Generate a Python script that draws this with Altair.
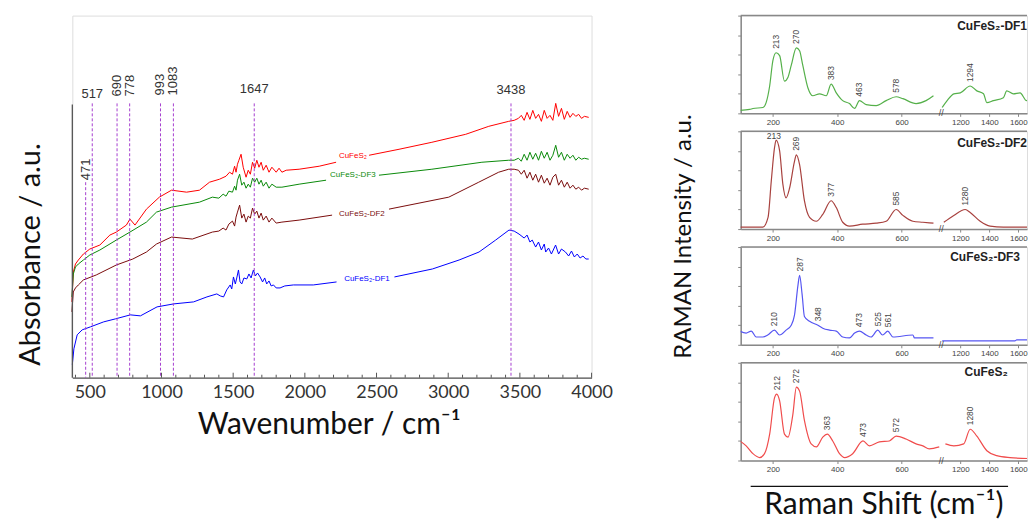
import altair as alt
import pandas as pd

# ---------------- FTIR spectra (left) ----------------
ftir_names = ["CuFeS₂", "CuFeS₂-DF3", "CuFeS₂-DF2", "CuFeS₂-DF1"]
ftir_colors = ["#ff0000", "#0a8a0a", "#7a0c0c", "#0000ff"]

red_wn = [375,385,400,420,455,500,570,640,685,755,780,815,895,985,1070,1175,1265,1335,1405,1450,
          1475,1495,1510,1520,1530,1540,1555,1570,1590,1605,1620,1635,1650,1665,1680,1695,1710,1730,1750,1770,
          1800,1820,1840,1870,1960,2100,2218,2448,2657,2886,3122,3283,3422,3460,3490,3510,3530,3550,3570,3590,
          3610,3630,3650,3670,3690,3710,3730,3750,3770,3790,3810,3830,3850,3870,3890,3910,3930,3950,3980]
red_ab = [76,106,114,118,124,129,133,143,146,153,159,153,169,181,188,186,188,196,199,202,
          206,204,212,206,214,218,224,211,201,208,204,216,210,218,211,216,208,213,206,211,
          206,210,206,208,209,212,216,223,229,236,244,252,257,258,260,263,258,266,259,268,
          260,264,257,268,260,263,258,275,262,270,259,267,261,265,262,264,260,262,261]

green_wn = [375,385,400,420,455,500,570,685,780,895,965,1070,1265,1355,1400,1430,1450,1470,1495,1510,
            1520,1530,1545,1560,1575,1590,1605,1620,1635,1650,1665,1680,1695,1710,1730,1750,1770,1800,1840,1960,
            2148,2517,2886,3235,3422,3460,3490,3510,3530,3550,3570,3590,3610,3630,3650,3670,3690,3710,3730,3750,
            3770,3790,3810,3830,3850,3870,3890,3910,3930,3950,3980]
green_ab = [81,104,111,114,118,123,128,138,146,156,166,171,176,181,180,184,182,187,186,192,
            188,198,204,193,196,190,194,191,200,196,200,194,198,192,196,190,194,191,191,194,
            198,203,209,216,218,218,220,217,224,218,226,219,225,218,227,220,226,218,223,233,
            221,226,218,224,220,223,218,221,219,220,219]

brown_wn = [375,385,400,420,455,545,685,800,895,965,1070,1215,1355,1400,1430,1450,1470,1495,1510,1520,
            1530,1545,1560,1575,1590,1605,1620,1635,1650,1665,1680,1695,1710,1730,1750,1770,1800,1840,1960,2190,
            2587,3004,3213,3352,3422,3460,3490,3510,3530,3550,3570,3590,3610,3630,3650,3670,3690,3710,3730,3750,
            3770,3790,3810,3830,3850,3870,3890,3910,3930,3950,3980]
brown_ab = [66,86,90,93,98,103,113,119,126,134,141,139,146,147,150,148,154,157,152,161,
            166,173,160,164,156,162,160,170,164,167,160,165,158,162,156,160,155,156,158,163,
            169,181,196,206,209,209,208,204,208,200,206,198,204,196,203,195,200,193,201,204,
            193,198,191,196,190,193,189,191,188,190,189]

blue_wn = [378,389,412,447,505,597,679,783,853,969,1085,1224,1317,1386,1410,1433,1455,1479,1490,1502,
           1515,1525,1537,1548,1560,1575,1595,1610,1625,1641,1655,1670,1688,1705,1720,1734,1750,1765,1781,1800,
           1827,1860,1920,2059,2221,2625,2890,3076,3215,3331,3424,3460,3494,3530,3550,3570,3586,3610,3630,3650,
           3670,3680,3700,3720,3749,3770,3790,3818,3840,3860,3880,3900,3920,3940,3960,3980]
blue_ab = [13,29,43,48,51,56,59,63,62,71,74,76,81,84,82,81,88,93,89,101,
           94,100,108,96,94,100,99,104,100,108,102,105,101,96,100,94,97,92,93,90,
           90,92,93,93,96,101,109,118,126,138,148,147,144,140,143,136,138,131,136,128,
           134,126,130,124,133,124,129,126,122,127,121,124,120,122,119,119]

# series labels sitting in the gaps of the curves
ftir_label_wn = [2335, 2335, 2398, 2433]
ftir_label_ab = [222, 203, 164, 99]

# marked bands
band_wn = [471, 517, 690, 778, 993, 1083, 1647, 3438]
band_top = [196, 275, 275, 275, 275, 275, 275, 275]
band_h_text = ["517", "1647", "3438"]
band_h_wn = [517, 1647, 3438]
band_h_y = [284, 289, 288]
band_v_text = ["471", "690", "778", "993", "1083"]
band_v_wn = [471, 690, 778, 993, 1083]
band_v_y = [198, 282, 282, 283, 283]

major_ticks = [500, 1000, 1500, 2000, 2500, 3000, 3500, 4000]
minor_ticks = [v for v in range(400, 4001, 100) if v % 500 != 0]

# ---------------- Raman spectra (right) ----------------
df1_wn = [97,128,138,169,179,190,200,210,221,236,247,257,273,283,293,309,324,345,366,381,
          397,417,438,454,469,490,521,552,583,604,645,676,699,
          1075,1109,1155,1200,1268,1314,1360,1383,1428,1497,1520,1566,1612,1657,1680]
df1_int = [3,4,5,6,11,28,54,62,59,33,37,49,67,64,49,26,18,20,18,30,
           21,13,10,5,13,9,8,13,17,15,10,13,18,
           6,13,20,21,28,23,20,11,13,16,23,20,21,13,20]

df2_wn = [97,128,169,185,195,205,210,221,231,241,252,267,273,283,298,314,335,355,381,397,
          417,438,479,521,552,583,604,635,666,699,
          1086,1155,1234,1268,1337,1405,1497,1589,1680]
df2_int = [2,2,2,12,49,83,91,80,46,32,42,69,76,66,29,12,8,15,29,22,
           7,3,5,6,8,20,14,8,7,6,
           7,14,20,17,8,3,2,2,2]

df3_wn = [97,117,133,148,169,184,205,221,241,257,267,278,283,291,298,314,340,355,376,397,
          417,438,454,469,490,505,526,541,557,573,635,640,699,
          1075,1577,1589,1680]
df3_int = [14,12,14,8,8,10,15,10,15,20,30,61,71,51,29,24,20,17,15,14,
           8,7,12,14,10,8,15,10,14,8,10,7,7,
           4,4,5,5]

cu_wn = [97,117,138,159,174,190,205,212,221,236,247,262,273,283,298,319,335,355,369,386,
         407,423,448,480,500,531,562,583,614,645,666,686,717,
         1097,1155,1223,1268,1314,1383,1451,1543,1680]
cu_int = [20,15,7,3,7,27,64,68,61,27,24,47,75,71,41,17,14,24,27,20,
          7,3,7,20,15,19,20,25,22,17,15,12,14,
          17,15,17,32,25,10,5,3,2]

pk1_text = ["213", "270", "383", "463", "578", "1294"]
pk1_wn = [210, 273, 381, 469, 583, 1268]
pk1_int = [62, 67, 30, 13, 17, 28]
pk2_text = ["269", "377", "585", "1280"]
pk2_wn = [273, 381, 583, 1234]
pk2_int = [76, 29, 20, 20]
pk3_text = ["210", "287", "348", "473", "525", "561"]
pk3_wn = [205, 283, 340, 469, 526, 557]
pk3_int = [15, 71, 20, 14, 15, 14]
pk4_text = ["212", "272", "363", "473", "572", "1280"]
pk4_wn = [212, 273, 369, 480, 583, 1268]
pk4_int = [68, 75, 27, 20, 25, 32]

raman_ticks = [200, 400, 600, 1200, 1400, 1600]

# ======================= left chart =======================
W, H = 520.5, 363
TITLE_FONT = "Lato"

rows = []
for name, wns, abs_, lw in zip(ftir_names, [red_wn, green_wn, brown_wn, blue_wn],
                                [red_ab, green_ab, brown_ab, blue_ab], ftir_label_wn):
    for w, a in zip(wns, abs_):
        rows.append({"wn": w, "ab": a, "series": name, "seg": int(w > lw)})
ftir = pd.DataFrame(rows)

xs = alt.Scale(domain=[378, 4000], nice=False, zero=False)
ys = alt.Scale(domain=[0, H], nice=False, zero=False)
cs = alt.Scale(domain=ftir_names, range=ftir_colors)

xaxis = alt.Axis(values=major_ticks, format="d", labelFont=TITLE_FONT, labelFontSize=18,
                 labelColor="#333", ticks=False, domainColor="#555", domainWidth=1.3,
                 labelPadding=6, grid=False, labelFlush=False,
                 title="Wavenumber / cm⁻¹", titleFont=TITLE_FONT, titleFontSize=30,
                 titleFontWeight="normal", titleColor="#111", titleX=257, titleY=47,
                 titleBaseline="middle", titleAlign="center")
yaxis = alt.Axis(domain=False, ticks=False, labels=False, grid=False,
                 title="Absorbance / a.u.", titleFont=TITLE_FONT, titleFontSize=29,
                 titleFontWeight="normal", titleColor="#111", titleX=-41.7, titleY=239,
                 titleBaseline="middle", titleAlign="center", titleAngle=270)

spectra = alt.Chart(ftir).mark_line(strokeWidth=1).encode(
    x=alt.X("wn:Q", scale=xs, axis=xaxis),
    y=alt.Y("ab:Q", scale=ys, axis=yaxis),
    color=alt.Color("series:N", scale=cs, legend=None),
    detail="seg:N",
    order="wn:Q",
)

bands = alt.Chart(pd.DataFrame({"wn": band_wn, "ab": band_top})).mark_rule(
    color="#a63fd0", strokeWidth=1, strokeDash=[3, 2]
).encode(x="wn:Q", y="ab:Q", y2=alt.datum(0))

series_labels = alt.Chart(pd.DataFrame({"wn": ftir_label_wn, "ab": ftir_label_ab, "series": ftir_names})).mark_text(
    fontSize=8, font="Liberation Sans", baseline="middle"
).encode(x="wn:Q", y="ab:Q", text="series:N", color=alt.Color("series:N", scale=cs, legend=None))

band_h = alt.Chart(pd.DataFrame({"wn": band_h_wn, "ab": band_h_y, "t": band_h_text})).mark_text(
    fontSize=13, font="Liberation Sans", color="#333", baseline="middle"
).encode(x="wn:Q", y="ab:Q", text="t:N")

band_v = alt.Chart(pd.DataFrame({"wn": band_v_wn, "ab": band_v_y, "t": band_v_text})).mark_text(
    fontSize=13, font="Liberation Sans", color="#333", baseline="middle", align="left", angle=270
).encode(x="wn:Q", y="ab:Q", text="t:N")

yline = alt.Chart(pd.DataFrame({"a": [0]})).mark_rule(color="#555", strokeWidth=1.3).encode(
    x=alt.datum(378), y=alt.datum(274), y2=alt.datum(0))

maj = alt.Chart(pd.DataFrame({"wn": major_ticks})).mark_rule(color="#555", strokeWidth=1).encode(
    x="wn:Q", y=alt.value(H), y2=alt.value(H - 5))
mnr = alt.Chart(pd.DataFrame({"wn": minor_ticks})).mark_rule(color="#555", strokeWidth=1).encode(
    x="wn:Q", y=alt.value(H), y2=alt.value(H - 3))

left = alt.layer(spectra, bands, series_labels, band_h, band_v, yline, maj, mnr).properties(width=W, height=H)

# ======================= right panels =======================
PW, PH = 287, 98
GRAY = "#888"


def panel(wn, inten, color, pk_text, pk_wn, pk_int, name, name_x, name_y, name_align,
          extra=None, title=None, ytitle=None):
    df = pd.DataFrame({"wn": wn, "i": inten})
    df["seg"] = (df["wn"] > 900).astype(int)
    rx = alt.Scale(domain=[100, 720, 1075, 1660], range=[0, 200, 202, PW], nice=False, zero=False)
    ry = alt.Scale(domain=[0, 100], nice=False, zero=False)
    rxa = alt.Axis(values=raman_ticks, format="d", labelFontSize=8, labelFont="Liberation Sans",
                   labelColor="#444", tickSize=3, tickColor=GRAY, domainColor=GRAY, domainWidth=1.5,
                   labelPadding=2, grid=False, title=None, labelFlush=False)
    if ytitle is None:
        rya = alt.Axis(labels=False, tickSize=3, tickColor=GRAY, domainColor=GRAY, domainWidth=1.5,
                       grid=False, title=None, tickCount=4)
    else:
        rya = alt.Axis(labels=False, tickSize=3, tickColor=GRAY, domainColor=GRAY, domainWidth=1.5,
                       grid=False, tickCount=4, title=ytitle, titleFont=TITLE_FONT, titleFontSize=24,
                       titleFontWeight="normal", titleColor="#111", titleX=-57, titleY=221,
                       titleAngle=270, titleAlign="center", titleBaseline="middle")
    line = alt.Chart(df).mark_line(color=color, strokeWidth=1.2, clip=True, interpolate="monotone").encode(
        x=alt.X("wn:Q", scale=rx, axis=rxa), y=alt.Y("i:Q", scale=ry, axis=rya),
        detail="seg:N", order="wn:Q")
    pk = pd.DataFrame({"wn": pk_wn, "i": [v + 4 for v in pk_int], "t": pk_text})
    labels = alt.Chart(pk).mark_text(angle=270, align="left", baseline="middle", fontSize=8.5,
                                     font="Liberation Sans", color="#444").encode(
        x="wn:Q", y="i:Q", text="t:N")
    top = alt.Chart(pd.DataFrame({"a": [0]})).mark_rule(color=GRAY, strokeWidth=1.5).encode(
        x=alt.value(0), x2=alt.value(PW), y=alt.value(0))
    brk = alt.Chart(pd.DataFrame({"a": [0]})).mark_text(text="//", fontSize=9, color="#444",
                                                        baseline="middle").encode(
        x=alt.datum(897), y=alt.value(PH))
    nm = alt.Chart(pd.DataFrame({"a": [0]})).mark_text(fontSize=12, fontWeight="bold",
                                                       font="Liberation Sans", color="#222",
                                                       align=name_align, baseline="middle").encode(
        x=alt.value(name_x), y=alt.value(name_y), text=alt.value(name))
    layers = [line, labels, top, brk, nm]
    if extra is not None:
        layers += extra
    ch = alt.layer(*layers).properties(width=PW, height=PH)
    if title is not None:
        ch = ch.properties(title=title)
    return ch


h213 = alt.Chart(pd.DataFrame({"wn": [203], "i": [95], "t": ["213"]})).mark_text(
    fontSize=8.5, font="Liberation Sans", color="#444", baseline="middle").encode(
    x="wn:Q", y="i:Q", text="t:N")

shift_line = alt.Chart(pd.DataFrame({"a": [0]})).mark_rule(color="#111", strokeWidth=1.3).encode(
    x=alt.value(10), x2=alt.value(268), y=alt.value(PH + 26))

p1 = panel(df1_wn, df1_int, "#55b04a", pk1_text, pk1_wn, pk1_int, "CuFeS₂-DF1", PW, 10, "right",
           ytitle="RAMAN Intensity / a.u.")
p2 = panel(df2_wn, df2_int, "#a8423f", pk2_text, pk2_wn, pk2_int, "CuFeS₂-DF2", PW, 12, "right",
           extra=[h213])
p3 = panel(df3_wn, df3_int, "#5656f2", pk3_text, pk3_wn, pk3_int, "CuFeS₂-DF3", 280, 10, "right")
p4 = panel(cu_wn, cu_int, "#f04c4c", pk4_text, pk4_wn, pk4_int, "CuFeS₂", 246, 9, "center",
           extra=[shift_line],
           title=alt.TitleParams("Raman Shift (cm⁻¹)", orient="bottom", fontSize=30, font=TITLE_FONT,
                                 fontWeight="normal", color="#111", offset=3))

right = alt.vconcat(p1, p2, p3, p4, spacing=18, bounds="flush")

chart = alt.hconcat(left, right, spacing=58).properties(
    padding={"left": 15.5, "top": 13, "right": 0, "bottom": 0}
).configure_view(stroke=None).configure(background="white")

chart.save("out.html", embed_options={"renderer": "svg", "actions": False})
